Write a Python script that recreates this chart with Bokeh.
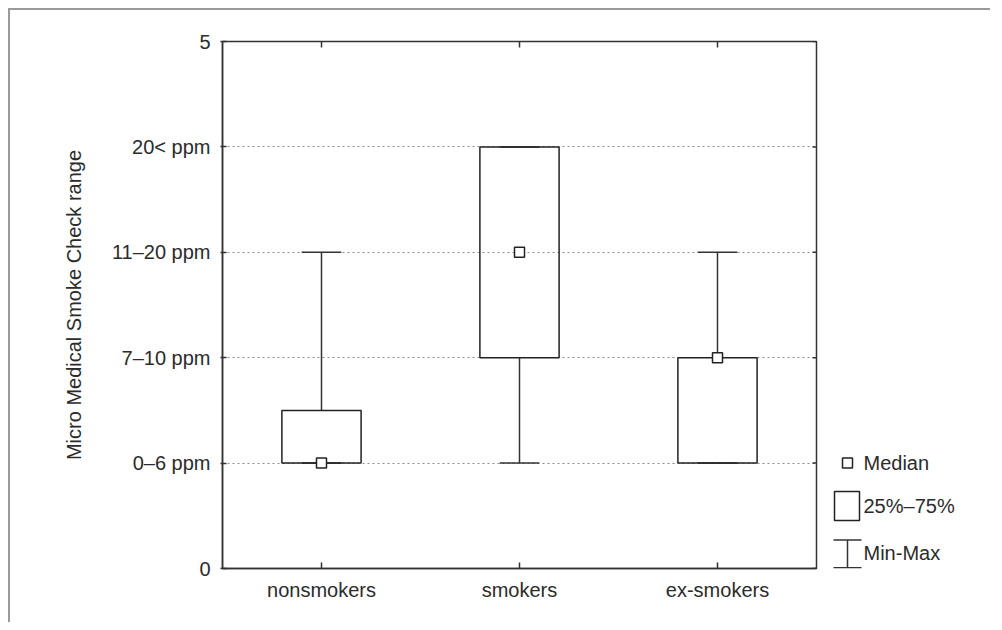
from bokeh.plotting import figure
from bokeh.models import FactorRange, Range1d, FixedTicker, ColumnDataSource
from bokeh.transform import dodge
from bokeh.layouts import row
from bokeh.core.properties import value
from bokeh.embed import file_html
from bokeh.resources import INLINE
import math

# ---- data ----
categories = ["nonsmokers", "smokers", "ex-smokers"]
minimum = [1, 1, 1]
q1 = [1, 2, 1]
median = [1, 3, 2]
q3 = [1.5, 4, 2]
maximum = [3, 4, 3]
y_ticks = [0, 1, 2, 3, 4, 5]
y_tick_labels = ["0", "0–6 ppm", "7–10 ppm", "11–20 ppm", "20< ppm", "5"]
legend_labels = ["Median", "25%–75%", "Min-Max"]

FONT = "Liberation Sans"
FS = "20px"
INK = "#2b2b2b"
LINE = "#333333"

src = ColumnDataSource(dict(cat=categories, mn=minimum, q1=q1, med=median, q3=q3, mx=maximum))

p = figure(x_range=FactorRange(*categories), y_range=Range1d(0, 5),
           width=808, height=612, min_border_left=212, min_border_top=31,
           min_border_bottom=54, min_border_right=2,
           output_backend="svg", toolbar_location=None)
p.outline_line_color = LINE
p.outline_line_width = 1.5
p.background_fill_color = "white"
p.border_fill_color = "white"

# y axis
ya = p.yaxis[0]
ya.ticker = FixedTicker(ticks=y_ticks)
ya.major_label_overrides = {t: l for t, l in zip(y_ticks, y_tick_labels)}
ya.axis_label = "Micro Medical Smoke Check range"
ya.axis_label_text_font = FONT
ya.axis_label_text_font_size = FS
ya.axis_label_text_font_style = "normal"
ya.axis_label_text_color = INK
ya.axis_label_standoff = 24
ya.major_label_text_font = FONT
ya.major_label_text_font_size = FS
ya.major_label_text_color = INK
ya.major_label_standoff = 10
ya.major_tick_in = 4
ya.major_tick_out = 2
ya.minor_tick_line_color = None
ya.axis_line_color = LINE
ya.axis_line_width = 1.5
ya.major_tick_line_color = LINE
ya.major_tick_line_width = 1.5

xa = p.xaxis[0]
xa.major_label_text_font = FONT
xa.major_label_text_font_size = FS
xa.major_label_text_color = INK
xa.major_label_standoff = 10
xa.major_tick_in = 6
xa.major_tick_out = 0
xa.axis_line_color = LINE
xa.axis_line_width = 1.5
xa.major_tick_line_color = LINE
xa.major_tick_line_width = 1.5

p.xgrid.visible = False
p.ygrid.ticker = FixedTicker(ticks=[1, 2, 3, 4])
p.ygrid.grid_line_color = "#8c8c8c"
p.ygrid.grid_line_dash = "2 3"
p.ygrid.grid_line_width = 1

# inward ticks on the top and right edges of the frame (outer halves are clipped)
p.scatter(x=categories, y=[5] * len(categories), marker="dash", angle=math.pi / 2,
          size=12, line_color=LINE, line_width=1.5)
rsrc = ColumnDataSource(dict(cat=[categories[-1]] * len(y_ticks), y=y_ticks))
p.scatter(x=dodge("cat", 0.5, range=p.x_range), y="y", source=rsrc, marker="dash",
          size=8, line_color=LINE, line_width=1.5)

# whiskers
p.segment(x0="cat", y0="mn", x1="cat", y1="q1", source=src, line_color=LINE, line_width=1.5)
p.segment(x0="cat", y0="q3", x1="cat", y1="mx", source=src, line_color=LINE, line_width=1.5)
p.segment(x0=dodge("cat", -0.1, range=p.x_range), x1=dodge("cat", 0.1, range=p.x_range),
          y0="mn", y1="mn", source=src, line_color=LINE, line_width=1.5)
p.segment(x0=dodge("cat", -0.1, range=p.x_range), x1=dodge("cat", 0.1, range=p.x_range),
          y0="mx", y1="mx", source=src, line_color=LINE, line_width=1.5)
# boxes
p.vbar(x="cat", width=0.4, bottom="q1", top="q3", source=src, fill_color=None,
       line_color="#222222", line_width=1.5)
# medians
p.scatter(x="cat", y="med", source=src, marker="square", size=10, fill_color="white",
          line_color="#222222", line_width=1.5)

# ---- legend panel (shares the chart's vertical scale) ----
q = figure(x_range=Range1d(0, 172), y_range=p.y_range, width=172, height=612,
           min_border_left=0, min_border_right=0, min_border_top=31, min_border_bottom=54,
           x_axis_location=None, y_axis_location=None,
           output_backend="svg", toolbar_location=None)
q.grid.visible = False
q.outline_line_color = None
q.border_fill_color = "white"

lx = 29
q.scatter(x=[lx], y=[1], marker="square", size=10, fill_color="white",
          line_color="#222222", line_width=1.5)
q.quad(left=[16], right=[41], bottom=[0.455], top=[0.73], fill_color=None,
       line_color="#222222", line_width=1.5)
q.segment(x0=[lx], x1=[lx], y0=[0.006], y1=[0.27], line_color=LINE, line_width=1.5)
q.segment(x0=[15, 15], x1=[43, 43], y0=[0.006, 0.27], y1=[0.006, 0.27], line_color=LINE, line_width=1.5)
q.text(x=[45, 45, 45], y=[1, 0.59, 0.15], text=legend_labels, text_font=value(FONT),
       text_font_size=FS, text_color=INK, text_baseline="middle", text_align="left")

layout = row(p, q, styles={"border-top": "2px solid #9a9a9a", "border-left": "2px solid #9a9a9a",
                           "margin-left": "8px", "margin-top": "8px"})

open("out.html", "w").write(file_html(layout, INLINE))
